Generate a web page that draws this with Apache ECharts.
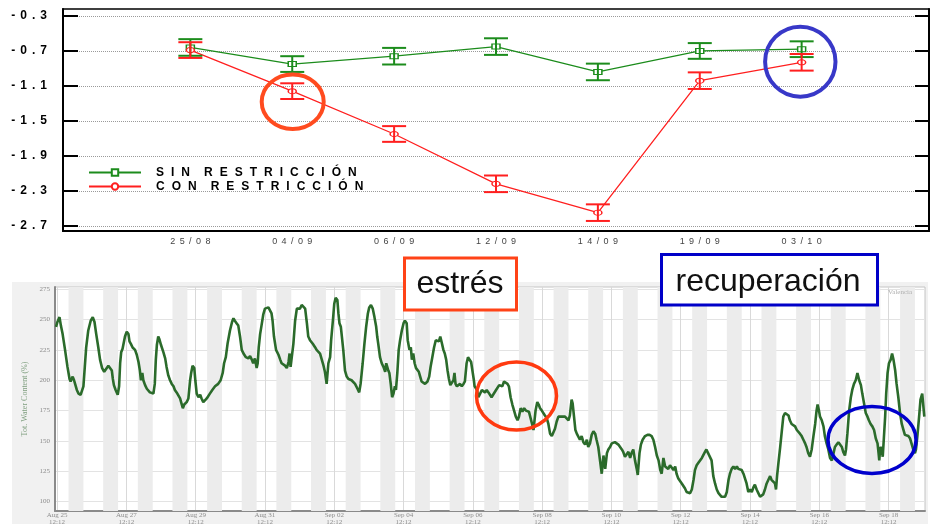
<!DOCTYPE html>
<html>
<head>
<meta charset="utf-8">
<script src="https://cdn.jsdelivr.net/npm/echarts@6/dist/echarts.min.js"></script>
<style>
  html, body { margin: 0; padding: 0; background: #ffffff; }
  #chart { width: 935px; height: 524px; }
</style>
</head>
<body>
<div id="chart"></div>
<script>
// ---- Potencial hídrico de tallo (MPa), medias y error por fecha ----
const fechas = ['25/08', '04/09', '06/09', '12/09', '14/09', '19/09', '03/10'];
const sinRestriccion = [-0.66, -0.85, -0.76, -0.65, -0.94, -0.70, -0.68];
const errSinRestriccion = [0.095, 0.09, 0.095, 0.095, 0.095, 0.09, 0.09];
const conRestriccion = [-0.69, -1.16, -1.65, -2.22, -2.55, -1.04, -0.83];
const errConRestriccion = [0.09, 0.09, 0.09, 0.095, 0.095, 0.095, 0.095];
const ticksPotencial = [-2.7, -2.3, -1.9, -1.5, -1.1, -0.7, -0.3];

// ---- Contenido de agua del suelo (sonda), días desde 25 Ago 12:12 ----
const swcDays = [
  -0.03, 0.01, 0.05, 0.07, 0.11, 0.16, 0.23, 0.30, 0.36, 0.39, 0.45, 0.49, 0.52, 0.57, 0.62, 0.68, 0.73, 0.76, 0.80, 0.84,
  0.90, 0.97, 1.03, 1.08, 1.13, 1.19, 1.24, 1.30, 1.36, 1.41, 1.48, 1.53, 1.58, 1.61, 1.64, 1.69, 1.75, 1.79, 1.82, 1.85,
  1.89, 1.96, 2.01, 2.06, 2.09, 2.13, 2.18, 2.25, 2.30, 2.35, 2.39, 2.42, 2.46, 2.49, 2.54, 2.59, 2.63, 2.68, 2.73, 2.78,
  2.82, 2.85, 2.88, 2.92, 2.95, 3.00, 3.07, 3.12, 3.16, 3.21, 3.26, 3.31, 3.36, 3.40, 3.45, 3.50, 3.55, 3.59, 3.63, 3.67,
  3.74, 3.79, 3.84, 3.87, 3.91, 3.96, 3.99, 4.03, 4.08, 4.13, 4.17, 4.22, 4.27, 4.32, 4.37, 4.41, 4.48, 4.56, 4.65, 4.72,
  4.78, 4.82, 4.87, 4.92, 4.99, 5.05, 5.09, 5.13, 5.18, 5.23, 5.28, 5.33, 5.38, 5.45, 5.52, 5.57, 5.62, 5.66, 5.71, 5.76,
  5.79, 5.82, 5.86, 5.90, 5.95, 6.00, 6.05, 6.10, 6.14, 6.19, 6.22, 6.26, 6.32, 6.39, 6.44, 6.48, 6.53, 6.58, 6.63, 6.68,
  6.71, 6.74, 6.78, 6.82, 6.87, 6.92, 6.97, 7.01, 7.06, 7.11, 7.16, 7.21, 7.25, 7.30, 7.38, 7.45, 7.49, 7.54, 7.59, 7.64,
  7.69, 7.73, 7.78, 7.83, 7.88, 7.91, 7.96, 8.00, 8.04, 8.09, 8.12, 8.15, 8.19, 8.22, 8.26, 8.31, 8.36, 8.41, 8.46, 8.50,
  8.55, 8.60, 8.67, 8.72, 8.76, 8.82, 8.87, 8.92, 8.97, 9.01, 9.06, 9.11, 9.16, 9.21, 9.24, 9.27, 9.32, 9.37, 9.42, 9.47,
  9.50, 9.53, 9.56, 9.59, 9.63, 9.67, 9.71, 9.75, 9.78, 9.82, 9.86, 9.90, 9.95, 10.00, 10.04, 10.09, 10.12, 10.17, 10.21, 10.24,
  10.28, 10.32, 10.36, 10.40, 10.44, 10.48, 10.52, 10.57, 10.62, 10.69, 10.74, 10.78, 10.83, 10.88, 10.93, 10.98, 11.02, 11.06, 11.11, 11.15,
  11.19, 11.23, 11.27, 11.31, 11.35, 11.40, 11.44, 11.47, 11.50, 11.54, 11.58, 11.63, 11.68, 11.73, 11.77, 11.82, 11.86, 11.90, 11.95, 11.99,
  12.03, 12.05, 12.08, 12.12, 12.16, 12.21, 12.26, 12.31, 12.35, 12.40, 12.45, 12.50, 12.54, 12.59, 12.67, 12.71, 12.76, 12.80, 12.85, 12.90,
  12.95, 13.00, 13.04, 13.09, 13.14, 13.19, 13.24, 13.29, 13.33, 13.38, 13.43, 13.48, 13.53, 13.57, 13.62, 13.67, 13.71, 13.75, 13.78, 13.81,
  13.86, 13.90, 13.94, 13.99, 14.04, 14.08, 14.13, 14.18, 14.23, 14.28, 14.32, 14.37, 14.42, 14.47, 14.52, 14.56, 14.61, 14.66, 14.71, 14.76,
  14.80, 14.85, 14.88, 14.92, 14.96, 15.00, 15.05, 15.09, 15.14, 15.19, 15.24, 15.29, 15.33, 15.38, 15.43, 15.48, 15.53, 15.57, 15.62, 15.67,
  15.72, 15.77, 15.82, 15.87, 15.91, 15.96, 16.01, 16.06, 16.10, 16.15, 16.20, 16.25, 16.30, 16.34, 16.39, 16.44, 16.49, 16.54, 16.58, 16.63,
  16.68, 16.73, 16.76, 16.81, 16.85, 16.90, 16.97, 17.04, 17.10, 17.16, 17.21, 17.26, 17.31, 17.36, 17.41, 17.45, 17.50, 17.55, 17.60, 17.64,
  17.69, 17.74, 17.79, 17.84, 17.88, 17.93, 17.98, 18.03, 18.08, 18.12, 18.17, 18.22, 18.27, 18.32, 18.37, 18.41, 18.46, 18.51, 18.56, 18.61,
  18.65, 18.70, 18.74, 18.79, 18.84, 18.89, 18.94, 18.99, 19.04, 19.09, 19.13, 19.18, 19.23, 19.28, 19.33, 19.38, 19.42, 19.47, 19.52, 19.57,
  19.62, 19.66, 19.71, 19.76, 19.81, 19.86, 19.90, 19.95, 20.00, 20.05, 20.10, 20.14, 20.19, 20.24, 20.29, 20.34, 20.38, 20.43, 20.48, 20.53,
  20.58, 20.62, 20.67, 20.72, 20.75, 20.78, 20.82, 20.87, 20.92, 20.96, 21.01, 21.06, 21.11, 21.15, 21.20, 21.25, 21.30, 21.35, 21.39, 21.44,
  21.49, 21.54, 21.59, 21.63, 21.68, 21.73, 21.78, 21.83, 21.88, 21.92, 21.95, 21.99, 22.02, 22.07, 22.12, 22.16, 22.21, 22.26, 22.31, 22.36,
  22.41, 22.45, 22.50, 22.55, 22.60, 22.65, 22.69, 22.74, 22.77, 22.81, 22.86, 22.91, 22.95, 23.00, 23.05, 23.10, 23.15, 23.20, 23.24, 23.29,
  23.34, 23.39, 23.43, 23.48, 23.53, 23.58, 23.63, 23.68, 23.71, 23.73, 23.76, 23.80, 23.83, 23.86, 23.90, 23.93, 23.97, 24.01, 24.06, 24.10,
  24.14, 24.19, 24.23, 24.28, 24.33, 24.38, 24.43, 24.47, 24.52, 24.57, 24.62, 24.66, 24.71, 24.76, 24.79, 24.83, 24.88, 24.92, 24.97, 25.01,
  25.03
];
const swcValues = [
  244, 248, 247, 252, 245, 238, 225, 211, 201, 199, 203, 200, 197, 192, 189, 188, 189, 195, 211, 227,
  241, 249, 252, 248, 238, 227, 217, 210, 207, 208, 212, 211, 208, 201, 196, 192, 188, 195, 214, 223,
  226, 236, 240, 238, 232, 230, 227, 225, 221, 215, 208, 200, 206, 200, 196, 193, 192, 190, 189, 189,
  197, 217, 229, 236, 234, 229, 223, 218, 211, 204, 200, 197, 195, 192, 190, 189, 185, 181, 177, 180,
  182, 185, 200, 206, 212, 210, 200, 189, 186, 188, 185, 182, 181, 185, 186, 189, 192, 195, 197, 200,
  206, 214, 219, 230, 241, 248, 251, 249, 247, 245, 236, 225, 222, 219, 218, 220, 217, 214, 218, 210,
  214, 227, 238, 245, 254, 259, 258, 260, 259, 255, 249, 236, 225, 221, 217, 214, 215, 212, 210, 215,
  222, 211, 210, 230, 249, 259, 260, 259, 262, 263, 259, 247, 236, 233, 230, 227, 225, 226, 222, 217,
  212, 207, 197, 214, 219, 233, 249, 263, 268, 266, 255, 247, 244, 236, 225, 208, 203, 201, 201, 200,
  199, 197, 193, 190, 197, 214, 230, 244, 255, 260, 262, 259, 252, 244, 236, 230, 219, 214, 211, 207,
  214, 215, 208, 206, 197, 186, 189, 195, 192, 206, 225, 233, 241, 247, 249, 247, 233, 225, 227, 217,
  222, 214, 210, 211, 207, 203, 199, 198, 197, 199, 203, 211, 219, 227, 233, 234, 232, 236, 230, 225,
  222, 217, 208, 201, 196, 195, 200, 206, 197, 195, 196, 197, 195, 197, 199, 214, 219, 218, 215, 214,
  200, 195, 196, 192, 186, 189, 192, 193, 190, 192, 190, 189, 186, 185, 192, 193, 196, 197, 195, 199,
  200, 197, 195, 186, 180, 175, 170, 167, 170, 177, 174, 177, 175, 176, 174, 173, 164, 159, 167, 175,
  182, 180, 177, 175, 174, 171, 169, 164, 156, 154, 155, 160, 166, 170, 169, 170, 171, 170, 169, 167,
  171, 184, 181, 170, 159, 156, 155, 151, 154, 149, 147, 151, 145, 148, 155, 158, 156, 151, 145, 134,
  123, 138, 127, 140, 143, 145, 148, 149, 149, 148, 147, 148, 143, 141, 137, 138, 141, 136, 140, 143,
  134, 127, 122, 140, 147, 151, 154, 155, 155, 154, 151, 145, 138, 134, 126, 123, 136, 129, 130, 127,
  130, 129, 126, 129, 123, 119, 118, 115, 114, 111, 108, 107, 107, 110, 118, 126, 130, 132, 133, 136,
  137, 141, 143, 140, 141, 134, 121, 115, 110, 107, 108, 104, 103, 104, 108, 118, 123, 127, 129, 127,
  129, 127, 127, 126, 123, 122, 115, 108, 110, 108, 112, 114, 110, 107, 104, 104, 106, 110, 115, 118,
  121, 118, 119, 115, 110, 121, 132, 145, 159, 170, 173, 172, 171, 167, 164, 164, 162, 159, 158, 156,
  154, 151, 148, 145, 140, 137, 143, 154, 164, 175, 180, 175, 170, 167, 162, 154, 148, 143, 136, 134,
  140, 145, 147, 149, 148, 145, 141, 138, 143, 156, 175, 186, 192, 197, 200, 206, 200, 196, 189, 181,
  173, 170, 167, 164, 162, 159, 152, 148, 140, 134, 145, 143, 137, 151, 170, 189, 206, 214, 217, 222,
  217, 208, 197, 186, 173, 164, 159, 155, 154, 154, 152, 148, 143, 140, 143, 154, 170, 184, 189, 189,
  170
];
const swcTicks = [100, 125, 150, 175, 200, 225, 250, 275];
const swcLabelDays = [0, 2, 4, 6, 8, 10, 12, 14, 16, 18, 20, 22, 24];
const meses = ['Jan', 'Feb', 'Mar', 'Apr', 'May', 'Jun', 'Jul', 'Aug', 'Sep', 'Oct', 'Nov', 'Dec'];
// Franja nocturna de cada día (fracción de día desde las 12:12)
const nocheInicio = 0.33;
const nocheFin = 0.76;

const SANS = '"Liberation Sans", Arial, sans-serif';
const SERIF = '"Liberation Serif", "DejaVu Serif", serif';

// Texto con separación entre letras (rich text: g = hueco entre letras, w = hueco entre palabras)
function espaciado(texto) {
  const out = [];
  const chars = Array.from(texto);
  chars.forEach((c, i) => {
    if (c === ' ') return;
    out.push(c);
    const next = chars[i + 1];
    if (next === undefined) return;
    out.push(next === ' ' ? '{w| }' : '{g| }');
  });
  return out.join('');
}

const nameSin = 'SIN RESTRICCIÓN';
const nameCon = 'CON RESTRICCIÓN';
const verde = '#1c8c1c';
const rojo = '#ff1f1f';

function barrasError(color) {
  return function (params, api) {
    const x = api.value(0);
    const top = api.coord([x, api.value(2)]);
    const bot = api.coord([x, api.value(1)]);
    const hw = 12;
    const style = { stroke: color, lineWidth: 2 };
    return {
      type: 'group',
      children: [
        { type: 'line', shape: { x1: top[0], y1: top[1], x2: bot[0], y2: bot[1] }, style: style },
        { type: 'line', shape: { x1: top[0] - hw, y1: top[1], x2: top[0] + hw, y2: top[1] }, style: style },
        { type: 'line', shape: { x1: bot[0] - hw, y1: bot[1], x2: bot[0] + hw, y2: bot[1] }, style: style }
      ]
    };
  };
}

const puntosSin = sinRestriccion.map((v, i) => [i, v]);
const puntosCon = conRestriccion.map((v, i) => [i, v]);
const errSin = sinRestriccion.map((v, i) => [i, v - errSinRestriccion[i], v + errSinRestriccion[i]]);
const errCon = conRestriccion.map((v, i) => [i, v - errConRestriccion[i], v + errConRestriccion[i]]);
const swcData = swcDays.map((d, i) => [d, swcValues[i]]);

const xMinSwc = -0.06, xMaxSwc = 25.05;
const noches = [];
for (let k = -1; k <= 25; k++) {
  const a = Math.max(xMinSwc, k + nocheInicio);
  const b = Math.min(xMaxSwc, k + nocheFin);
  if (b > a) noches.push([{ xAxis: a }, { xAxis: b }]);
}

function etiquetaFecha(d) {
  const dt = new Date(Date.UTC(2012, 7, 25) + Math.round(d) * 864e5);
  const dd = String(dt.getUTCDate()).padStart(2, '0');
  return meses[dt.getUTCMonth()] + ' ' + dd + '\n12:12';
}

const chart = echarts.init(document.getElementById('chart'), null, { renderer: 'canvas' });

chart.setOption({
  animation: false,
  backgroundColor: '#ffffff',
  grid: [
    { left: 63, right: 6, top: 9, bottom: 293, outerBoundsMode: 'none', show: true, borderColor: '#000', borderWidth: 1.5, backgroundColor: 'transparent' },
    { left: 55, right: 10, top: 287, bottom: 13, outerBoundsMode: 'none', show: true, borderColor: '#c4c4c4', borderWidth: 1, backgroundColor: '#ffffff' }
  ],
  legend: {
    data: [nameSin, nameCon],
    orient: 'vertical',
    left: 88,
    top: 166,
    padding: 0,
    itemWidth: 52,
    itemHeight: 8,
    itemGap: 1,
    selectedMode: false,
    formatter: (name) => espaciado(name),
    textStyle: {
      fontFamily: SANS, fontSize: 12, fontWeight: 'bold', color: '#000',
      padding: [0, 0, 0, 10], lineHeight: 13,
      rich: { g: { width: 7, fontSize: 12 }, w: { width: 14, fontSize: 12 } }
    }
  },
  xAxis: [
    {
      type: 'value', gridIndex: 0, min: -1.25, max: 7.25,
      axisLine: { show: true, onZero: false, lineStyle: { color: '#000', width: 2 } },
      axisTick: { show: false, customValues: [0, 1, 2, 3, 4, 5, 6] },
      splitLine: { show: false },
      axisLabel: {
        customValues: [0, 1, 2, 3, 4, 5, 6],
        formatter: (v) => espaciado(fechas[Math.round(v)] || ''),
        fontFamily: SANS, fontSize: 9, color: '#444', margin: 6,
        rich: { g: { width: 4.4, fontSize: 9 } }
      }
    },
    {
      type: 'value', gridIndex: 1, min: xMinSwc, max: xMaxSwc,
      axisLine: { show: true, onZero: false, lineStyle: { color: '#8a8a8a', width: 2 } },
      axisTick: { show: false, customValues: swcLabelDays },
      splitLine: { show: true, lineStyle: { color: '#d9d9d9', width: 1 } },
      axisLabel: {
        customValues: swcLabelDays,
        formatter: etiquetaFecha,
        fontFamily: SERIF, fontSize: 7, color: '#8c8c8c', margin: 1, lineHeight: 7
      }
    }
  ],
  yAxis: [
    {
      type: 'value', gridIndex: 0, min: -2.76, max: -0.22,
      axisLine: { show: true, onZero: false, lineStyle: { color: '#000', width: 2 } },
      axisTick: { show: true, inside: true, length: 15, customValues: ticksPotencial, lineStyle: { color: '#000', width: 2 } },
      splitLine: { show: true, lineStyle: { color: '#9a9a9a', width: 1, type: 'dotted' } },
      axisLabel: {
        customValues: ticksPotencial,
        formatter: (v) => espaciado(v.toFixed(1)),
        fontFamily: SANS, fontSize: 12, fontWeight: 'bold', color: '#000', margin: 16,
        rich: { g: { width: 5, fontSize: 12, fontWeight: 'bold' } }
      }
    },
    {
      type: 'value', gridIndex: 0, min: -2.76, max: -0.22, position: 'right',
      axisLine: { show: true, onZero: false, lineStyle: { color: '#000', width: 2 } },
      axisTick: { show: true, inside: true, length: 14, customValues: ticksPotencial, lineStyle: { color: '#000', width: 2 } },
      splitLine: { show: false },
      axisLabel: { show: false }
    },
    {
      type: 'value', gridIndex: 1, min: 92.3, max: 276.8,
      name: 'Tot. Water Content (%)',
      nameLocation: 'middle', nameRotate: 90, nameGap: 24,
      nameTextStyle: { fontFamily: SERIF, fontSize: 8, color: '#7f9f7f' },
      axisLine: { show: true, onZero: false, lineStyle: { color: '#8a8a8a', width: 2 } },
      axisTick: { show: false, customValues: swcTicks },
      splitLine: { show: true, lineStyle: { color: '#e3e3e3', width: 1 } },
      axisLabel: {
        customValues: swcTicks,
        fontFamily: SERIF, fontSize: 7, color: '#8c8c8c', margin: 5
      }
    }
  ],
  series: [
    {
      name: nameSin, type: 'line', xAxisIndex: 0, yAxisIndex: 0,
      data: puntosSin, color: verde,
      symbol: 'rect', symbolSize: [8, 5],
      lineStyle: { color: verde, width: 1.3 },
      itemStyle: { color: '#ffffff', borderColor: verde, borderWidth: 1.2 },
      z: 3
    },
    {
      name: nameCon, type: 'line', xAxisIndex: 0, yAxisIndex: 0,
      data: puntosCon, color: rojo,
      symbol: 'circle', symbolSize: [8, 5],
      lineStyle: { color: rojo, width: 1.3 },
      itemStyle: { color: '#ffffff', borderColor: rojo, borderWidth: 1.2 },
      z: 3
    },
    {
      name: 'err-sin', type: 'custom', xAxisIndex: 0, yAxisIndex: 0,
      data: errSin, renderItem: barrasError(verde), z: 4, silent: true
    },
    {
      name: 'err-con', type: 'custom', xAxisIndex: 0, yAxisIndex: 0,
      data: errCon, renderItem: barrasError(rojo), z: 4, silent: true
    },
    {
      name: 'swc', type: 'line', xAxisIndex: 1, yAxisIndex: 2,
      data: swcData, showSymbol: false, symbol: 'none',
      lineStyle: { color: '#2b6b2b', width: 2.6 },
      silent: true,
      markArea: {
        silent: true,
        itemStyle: { color: '#ececec' },
        data: noches
      }
    }
  ],
  graphic: [
    // panel de fondo del gráfico de la sonda
    { type: 'rect', z: -10, silent: true, shape: { x: 12, y: 282, width: 916, height: 242 }, style: { fill: '#f1f1f1' } },
    { type: 'text', z: 10, silent: true, x: 888, y: 289, style: { text: 'Valencia', font: '7px ' + SERIF, fill: '#b0b0b0' } },
    // cajas de texto
    { type: 'rect', z: 20, silent: true, shape: { x: 404.5, y: 258, width: 112, height: 52 }, style: { fill: '#ffffff', stroke: '#ff4317', lineWidth: 3 } },
    { type: 'text', z: 21, silent: true, x: 460, y: 284, style: { text: 'estrés', font: '32px ' + SANS, fill: '#111', align: 'center', verticalAlign: 'middle' } },
    { type: 'rect', z: 20, silent: true, shape: { x: 661.5, y: 254.5, width: 216, height: 50.5 }, style: { fill: '#ffffff', stroke: '#0000c8', lineWidth: 3 } },
    { type: 'text', z: 21, silent: true, x: 768, y: 282, style: { text: 'recuperación', font: '32px ' + SANS, fill: '#111', align: 'center', verticalAlign: 'middle' } },
    // círculos de resalte
    { type: 'ellipse', z: 22, silent: true, shape: { cx: 292.7, cy: 101.7, rx: 31, ry: 27.3 }, style: { fill: 'none', stroke: '#ff4b1f', lineWidth: 4 } },
    { type: 'ellipse', z: 22, silent: true, shape: { cx: 800.3, cy: 61.7, rx: 35.2, ry: 35 }, style: { fill: 'none', stroke: '#3838c8', lineWidth: 4 } },
    { type: 'ellipse', z: 22, silent: true, shape: { cx: 516.5, cy: 396, rx: 40, ry: 34 }, style: { fill: 'none', stroke: '#ff3a10', lineWidth: 3.5 } },
    { type: 'ellipse', z: 22, silent: true, shape: { cx: 872, cy: 440, rx: 44, ry: 33.5 }, style: { fill: 'none', stroke: '#0000cc', lineWidth: 3.5 } }
  ]
});
</script>
</body>
</html>
